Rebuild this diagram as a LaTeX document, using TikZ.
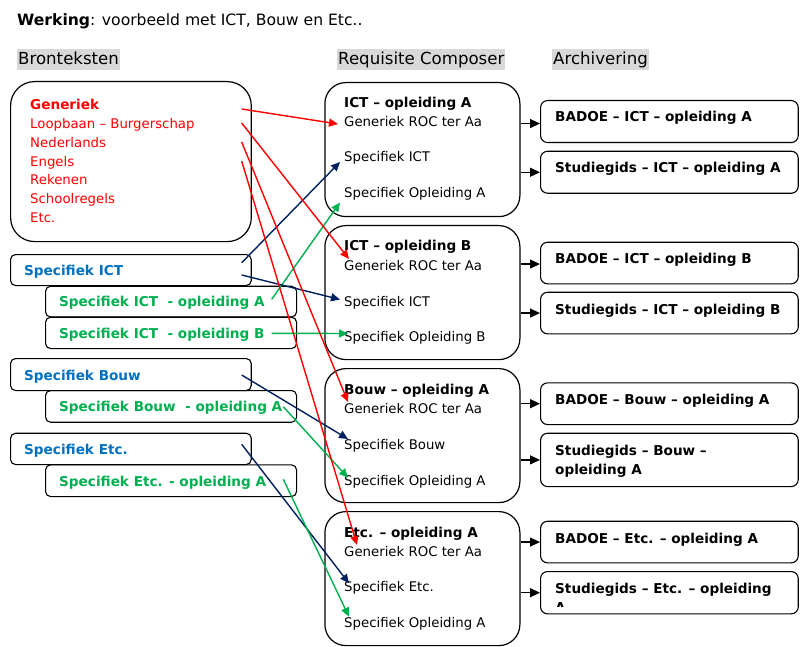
\documentclass[tikz,border=0pt]{standalone}
\usepackage{fontspec}
\setmainfont{DejaVu Sans}
\usetikzlibrary{arrows.meta}
\definecolor{cred}{HTML}{FF0000}
\definecolor{cnavy}{HTML}{002060}
\definecolor{cgreen}{HTML}{00B050}
\definecolor{cblue}{HTML}{0070C0}
\definecolor{hl}{HTML}{D9D9D9}
\tikzset{
  txt/.style={anchor=base west, inner sep=0pt, font=\fontsize{13.3}{16}\selectfont},
  btxt/.style={anchor=base west, inner sep=0pt, font=\fontsize{13.6}{16}\selectfont\bfseries},
  hdr/.style={anchor=base west, inner xsep=1pt, inner ysep=0pt, text height=15.5pt, text depth=5.5pt, fill=hl, font=\fontsize{16.6}{19}\selectfont},
  bigbox/.style={draw, line width=1.2pt, rounded corners=24pt, anchor=north west, inner sep=0pt},
  midbox/.style={draw, line width=1.2pt, rounded corners=21pt, anchor=north west, inner sep=0pt, minimum width=195pt, minimum height=134pt},
  srcbox/.style={draw, line width=1.1pt, rounded corners=5pt, anchor=north west, inner sep=0pt},
  arcbox/.style={draw, line width=1.1pt, rounded corners=7pt, anchor=north west, inner sep=0pt, minimum width=257.7pt},
  carrow/.style={line width=1.4pt, -{Triangle[length=9pt,width=8pt]}},
  blk/.style={line width=1.3pt, -{Triangle[length=10pt,width=9pt]}},
}
\begin{document}
\begin{tikzpicture}[x=1pt,y=-1pt]
\useasboundingbox[fill=white] (0,0) rectangle (811,647);

% title and headers
\node[anchor=base west, inner sep=0pt, font=\fontsize{15.6}{19}\selectfont] (title) at (17,26) {\textbf{Werking}: voorbeeld met ICT, Bouw en Etc..};
\node[hdr] (h1) at (17,64.3) {Bronteksten};
\node[hdr] (h2) at (337,64.3) {Requisite Composer};
\node[hdr] (h3) at (552,64.3) {Archivering};

% source boxes
\node[bigbox, minimum width=240.7pt, minimum height=160pt] (gen) at (10,81) {};
\node[btxt, text=cred] (g0) at (30,109.3) {Generiek};
\node[txt, text=cred] (g1) at (30,128.3) {Loopbaan – Burgerschap};
\node[txt, text=cred] (g2) at (30,147.3) {Nederlands};
\node[txt, text=cred] (g3) at (30,166.3) {Engels};
\node[txt, text=cred] (g4) at (30,184.3) {Rekenen};
\node[txt, text=cred] (g5) at (30,203.3) {Schoolregels};
\node[txt, text=cred] (g6) at (30,222.3) {Etc.};

\node[srcbox, minimum width=240.7pt, minimum height=31pt] (sICT) at (10,254) {};
\node[btxt, text=cblue] (tICT) at (24,275) {Specifiek ICT};
\node[srcbox, minimum width=251pt, minimum height=30.7pt] (sICTA) at (45,285.7) {};
\node[btxt, text=cgreen] (tICTA) at (59,306.7) {Specifiek ICT \ - opleiding A};
\node[srcbox, minimum width=251pt, minimum height=31.3pt] (sICTB) at (45,316.7) {};
\node[btxt, text=cgreen] (tICTB) at (59,338) {Specifiek ICT \ - opleiding B};

\node[srcbox, minimum width=240.7pt, minimum height=32pt] (sB) at (10,358) {};
\node[btxt, text=cblue] (tB) at (24,380) {Specifiek Bouw};
\node[srcbox, minimum width=251pt, minimum height=31.7pt] (sBA) at (45,390) {};
\node[btxt, text=cgreen] (tBA) at (59,411.7) {Specifiek Bouw \ - opleiding A};

\node[srcbox, minimum width=240.7pt, minimum height=31.3pt] (sE) at (10,432.7) {};
\node[btxt, text=cblue] (tE) at (24,454) {Specifiek Etc.};
\node[srcbox, minimum width=251pt, minimum height=31.7pt] (sEA) at (45,464.3) {};
\node[btxt, text=cgreen] (tEA) at (59,486) {Specifiek Etc. - opleiding A};

% composer boxes
\node[midbox] (mA) at (324.3,82) {};
\node[btxt] (mAh) at (344,108) {ICT – opleiding A};
\node[txt] (mA1) at (344,127) {Generiek ROC ter Aa};
\node[txt] (mA2) at (344,162) {Specifiek ICT};
\node[txt] (mA3) at (344,198) {Specifiek Opleiding A};

\node[midbox] (mB) at (324.3,225) {};
\node[btxt] (mBh) at (344,251) {ICT – opleiding B};
\node[txt] (mB1) at (344,270) {Generiek ROC ter Aa};
\node[txt] (mB2) at (344,306) {Specifiek ICT};
\node[txt] (mB3) at (344,341.5) {Specifiek Opleiding B};

\node[midbox] (mC) at (324.3,368) {};
\node[btxt] (mCh) at (344,394.5) {Bouw – opleiding A};
\node[txt] (mC1) at (344,413) {Generiek ROC ter Aa};
\node[txt] (mC2) at (344,449) {Specifiek Bouw};
\node[txt] (mC3) at (344,485) {Specifiek Opleiding A};

\node[midbox] (mD) at (324.3,511) {};
\node[btxt] (mDh) at (344,537.3) {Etc. – opleiding A};
\node[txt] (mD1) at (344,556) {Generiek ROC ter Aa};
\node[txt] (mD2) at (344,591.7) {Specifiek Etc.};
\node[txt] (mD3) at (344,627.3) {Specifiek Opleiding A};

% archive boxes
\node[arcbox, minimum height=42pt] (aA1) at (540,100) {};
\node[btxt] (taA1) at (555,122) {BADOE – ICT – opleiding A};
\node[arcbox, minimum height=42pt] (aA2) at (540,150.7) {};
\node[btxt] (taA2) at (555,173) {Studiegids – ICT – opleiding A};

\node[arcbox, minimum height=41.6pt] (aB1) at (540,241.7) {};
\node[btxt] (taB1) at (555,263) {BADOE – ICT – opleiding B};
\node[arcbox, minimum height=41.6pt] (aB2) at (540,291.7) {};
\node[btxt] (taB2) at (555,314) {Studiegids – ICT – opleiding B};

\node[arcbox, minimum height=41.7pt] (aC1) at (540,382.3) {};
\node[btxt] (taC1) at (555,404.3) {BADOE – Bouw – opleiding A};
\node[arcbox, minimum height=53.3pt] (aC2) at (540,432.7) {};
\node[btxt] (taC2) at (555,455) {Studiegids – Bouw –};
\node[btxt] (taC2b) at (555,474) {opleiding A};

\node[arcbox, minimum height=41.6pt] (aD1) at (540,520.7) {};
\node[btxt] (taD1) at (555,543.3) {BADOE – Etc. – opleiding A};
\node[arcbox, minimum height=42.3pt] (aD2) at (540,571) {};
\node[btxt] (taD2) at (555,593.3) {Studiegids – Etc. – opleiding};
\begin{scope}
\clip (541,575) rectangle (796,606.5);
\node[btxt] (taD2b) at (555,612.3) {A};
\end{scope}

% black arrows
\foreach \m/\a/\dy in {mA/aA1/2,mA/aA2/0,mB/aB1/1,mB/aB2/0,mC/aC1/0,mC/aC2/0,mD/aD1/0,mD/aD2/0}
  \draw[blk] ([yshift=-\dy pt]\m.east |- \a.west) -- ([yshift=-\dy pt]\a.west);

% coordinates for coloured connectors
\coordinate (r1s) at (241.7,109);   \coordinate (r1e) at (338,124);
\coordinate (r2s) at (241.7,123);   \coordinate (r2e) at (349,259);
\coordinate (r3s) at (241.7,142);   \coordinate (r3e) at (348,402);
\coordinate (r4s) at (241.7,161);   \coordinate (r4e) at (357,545);
\coordinate (n1s) at (241.7,262.7); \coordinate (n1e) at (340,162);
\coordinate (n2s) at (241.7,275);   \coordinate (n2e) at (340,299.5);
\coordinate (n3s) at (241.7,375);   \coordinate (n3e) at (348,439);
\coordinate (n4s) at (241.7,444.3); \coordinate (n4e) at (349,583.3);
\coordinate (g1s) at (271.7,299.3); \coordinate (g1e) at (340,202.5);
\coordinate (g2s) at (271.7,333.3); \coordinate (g2e) at (348,333.5);
\coordinate (g3s) at (283.3,406.7); \coordinate (g3e) at (348,477.7);
\coordinate (g4s) at (283.3,479.3); \coordinate (g4e) at (349,616.7);

\foreach \i in {1,2,3,4} {
  \draw[carrow, cred] (r\i s) -- (r\i e);
  \draw[carrow, cnavy] (n\i s) -- (n\i e);
  \draw[carrow, cgreen] (g\i s) -- (g\i e);
}
\end{tikzpicture}
\end{document}
